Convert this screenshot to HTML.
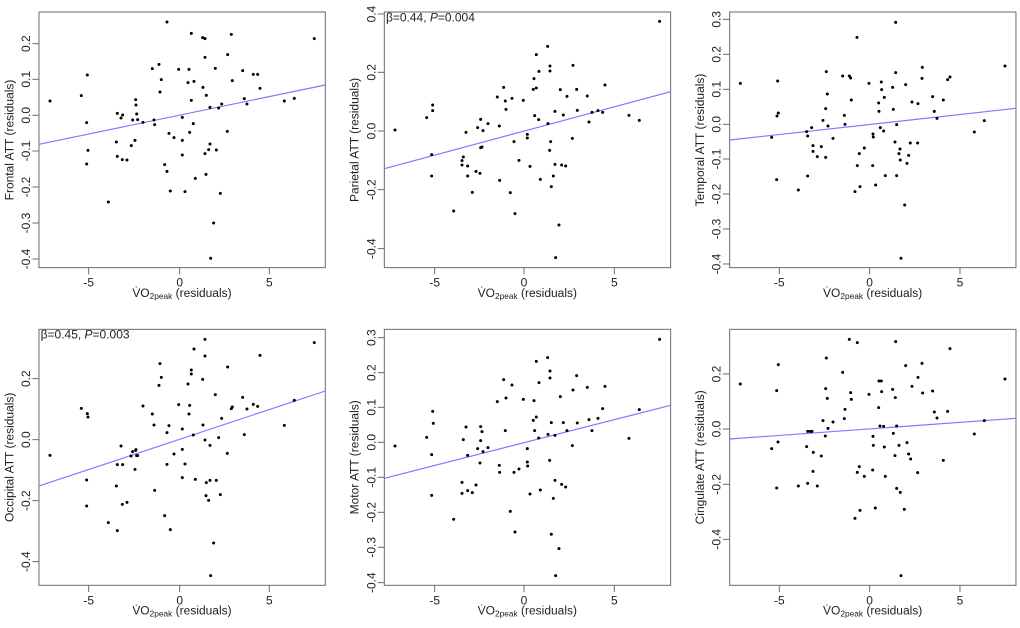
<!DOCTYPE html>
<html><head><meta charset="utf-8"><style>
html,body{margin:0;padding:0;background:#fff;}
svg{display:block;font-family:"Liberation Sans",Arial,sans-serif;}
text{fill:#222;font-size:36px;}
</style></head><body>
<svg id="s" width="1020" height="628" viewBox="0 0 1020 628" xmlns="http://www.w3.org/2000/svg">
<g id="p1" transform="translate(0,0) scale(0.3333)">
<text x="40" y="420" text-anchor="middle" transform="rotate(-90 40 420)">Frontal ATT (residuals)</text>
<text x="90" y="131" text-anchor="middle" transform="rotate(-90 90 131)">0.2</text>
<text x="90" y="238" text-anchor="middle" transform="rotate(-90 90 238)">0.1</text>
<text x="90" y="346" text-anchor="middle" transform="rotate(-90 90 346)">0.0</text>
<text x="90" y="453" text-anchor="middle" transform="rotate(-90 90 453)">-0.1</text>
<text x="90" y="561" text-anchor="middle" transform="rotate(-90 90 561)">-0.2</text>
<text x="90" y="669" text-anchor="middle" transform="rotate(-90 90 669)">-0.3</text>
<text x="90" y="777" text-anchor="middle" transform="rotate(-90 90 777)">-0.4</text>
<text x="266" y="860" text-anchor="middle">-5</text><text x="539" y="860" text-anchor="middle">0</text><text x="808" y="860" text-anchor="middle">5</text>
<text x="546" y="891" text-anchor="middle">V̇O<tspan font-size="25" dy="6">2peak</tspan><tspan dy="-6"> (residuals)</tspan></text>
</g>
<g id="p2" transform="translate(340,0) scale(0.3333)">
<text x="56" y="420" text-anchor="middle" transform="rotate(-90 56 420)">Parietal ATT (residuals)</text>
<text x="106" y="42" text-anchor="middle" transform="rotate(-90 106 42)">0.4</text>
<text x="106" y="217" text-anchor="middle" transform="rotate(-90 106 217)">0.2</text>
<text x="106" y="393" text-anchor="middle" transform="rotate(-90 106 393)">0.0</text>
<text x="106" y="569" text-anchor="middle" transform="rotate(-90 106 569)">-0.2</text>
<text x="106" y="746" text-anchor="middle" transform="rotate(-90 106 746)">-0.4</text>
<text x="284" y="860" text-anchor="middle">-5</text><text x="552" y="860" text-anchor="middle">0</text><text x="823" y="860" text-anchor="middle">5</text>
<text x="562" y="891" text-anchor="middle">V̇O<tspan font-size="25" dy="6">2peak</tspan><tspan dy="-6"> (residuals)</tspan></text>
<text x="138" y="64">β=0.44, <tspan font-style="italic">P</tspan>=0.004</text>
</g>
<g id="p3" transform="translate(680,0) scale(0.3333)">
<text x="72" y="420" text-anchor="middle" transform="rotate(-90 72 420)">Temporal ATT (residuals)</text>
<text x="122" y="58" text-anchor="middle" transform="rotate(-90 122 58)">0.3</text>
<text x="122" y="163" text-anchor="middle" transform="rotate(-90 122 163)">0.2</text>
<text x="122" y="268" text-anchor="middle" transform="rotate(-90 122 268)">0.1</text>
<text x="122" y="373" text-anchor="middle" transform="rotate(-90 122 373)">0.0</text>
<text x="122" y="477" text-anchor="middle" transform="rotate(-90 122 477)">-0.1</text>
<text x="122" y="582" text-anchor="middle" transform="rotate(-90 122 582)">-0.2</text>
<text x="122" y="687" text-anchor="middle" transform="rotate(-90 122 687)">-0.3</text>
<text x="122" y="792" text-anchor="middle" transform="rotate(-90 122 792)">-0.4</text>
<text x="298" y="860" text-anchor="middle">-5</text><text x="569" y="860" text-anchor="middle">0</text><text x="840" y="860" text-anchor="middle">5</text>
<text x="578" y="891" text-anchor="middle">V̇O<tspan font-size="25" dy="6">2peak</tspan><tspan dy="-6"> (residuals)</tspan></text>
</g>
<g id="p4" transform="translate(0,310) scale(0.3333)">
<text x="40" y="442" text-anchor="middle" transform="rotate(-90 40 442)">Occipital ATT (residuals)</text>
<text x="90" y="206" text-anchor="middle" transform="rotate(-90 90 206)">0.2</text>
<text x="90" y="389" text-anchor="middle" transform="rotate(-90 90 389)">0.0</text>
<text x="90" y="572" text-anchor="middle" transform="rotate(-90 90 572)">-0.2</text>
<text x="90" y="755" text-anchor="middle" transform="rotate(-90 90 755)">-0.4</text>
<text x="266" y="883" text-anchor="middle">-5</text><text x="539" y="883" text-anchor="middle">0</text><text x="808" y="883" text-anchor="middle">5</text>
<text x="546" y="914" text-anchor="middle">V̇O<tspan font-size="25" dy="6">2peak</tspan><tspan dy="-6"> (residuals)</tspan></text>
<text x="122" y="86">β=0.45, <tspan font-style="italic">P</tspan>=0.003</text>
</g>
<g id="p5" transform="translate(340,310) scale(0.3333)">
<text x="56" y="442" text-anchor="middle" transform="rotate(-90 56 442)">Motor ATT (residuals)</text>
<text x="106" y="83" text-anchor="middle" transform="rotate(-90 106 83)">0.3</text>
<text x="106" y="188" text-anchor="middle" transform="rotate(-90 106 188)">0.2</text>
<text x="106" y="292" text-anchor="middle" transform="rotate(-90 106 292)">0.1</text>
<text x="106" y="397" text-anchor="middle" transform="rotate(-90 106 397)">0.0</text>
<text x="106" y="502" text-anchor="middle" transform="rotate(-90 106 502)">-0.1</text>
<text x="106" y="607" text-anchor="middle" transform="rotate(-90 106 607)">-0.2</text>
<text x="106" y="712" text-anchor="middle" transform="rotate(-90 106 712)">-0.3</text>
<text x="106" y="818" text-anchor="middle" transform="rotate(-90 106 818)">-0.4</text>
<text x="284" y="883" text-anchor="middle">-5</text><text x="552" y="883" text-anchor="middle">0</text><text x="823" y="883" text-anchor="middle">5</text>
<text x="562" y="914" text-anchor="middle">V̇O<tspan font-size="25" dy="6">2peak</tspan><tspan dy="-6"> (residuals)</tspan></text>
</g>
<g id="p6" transform="translate(680,310) scale(0.3333)">
<text x="72" y="442" text-anchor="middle" transform="rotate(-90 72 442)">Cingulate ATT (residuals)</text>
<text x="122" y="192" text-anchor="middle" transform="rotate(-90 122 192)">0.2</text>
<text x="122" y="357" text-anchor="middle" transform="rotate(-90 122 357)">0.0</text>
<text x="122" y="523" text-anchor="middle" transform="rotate(-90 122 523)">-0.2</text>
<text x="122" y="688" text-anchor="middle" transform="rotate(-90 122 688)">-0.4</text>
<text x="298" y="883" text-anchor="middle">-5</text><text x="569" y="883" text-anchor="middle">0</text><text x="840" y="883" text-anchor="middle">5</text>
<text x="578" y="914" text-anchor="middle">V̇O<tspan font-size="25" dy="6">2peak</tspan><tspan dy="-6"> (residuals)</tspan></text>
</g>
</svg>
<script>
var NS="http://www.w3.org/2000/svg";
var P={
p1:{b:[117,36,976,803],xt:[266,539,808],yt:[131,238,346,453,561,669,777],l:[117,433,976,255],
pts:[150,303,244,287,262,225,260,368,264,451,260,492,325,606,349,426,352,340,352,469,363,354,368,345,367,479,381,480,398,360,405,421,407,299,408,315,410,342,413,359,394,437,429,367,457,206,462,360,464,374,477,193,480,276,484,239,494,494,501,514,501,66,507,400,511,573,522,413,536,208,547,352,547,421,547,465,555,575,564,248,567,208,569,397,574,100,574,301,580,371,582,244,586,535,608,113,609,262,615,116,615,172,615,461,618,523,619,286,626,449,630,432,630,322,632,775,641,669,646,205,649,450,656,324,661,580,665,312,682,394,683,164,694,103,697,242,728,212,733,296,741,312,760,223,773,223,780,265,853,303,883,295,943,116]},
p2:{b:[133,36,992,803],xt:[284,552,823],yt:[42,217,393,569,746],l:[133,506,992,275],
pts:[165,390,260,353,278,315,278,332,275,464,275,528,341,633,366,482,366,495,370,471,378,397,383,498,383,528,397,577,408,514,413,383,420,520,422,358,422,443,426,441,429,392,444,371,472,291,478,378,479,541,491,262,496,303,498,328,511,578,516,295,522,425,525,641,537,481,550,301,562,403,562,414,570,499,580,268,582,236,584,347,589,264,589,164,596,359,597,214,601,538,623,139,624,371,629,451,630,198,630,213,632,425,640,528,645,334,645,493,634,560,657,675,647,773,661,269,665,495,670,345,677,498,681,289,697,415,699,196,710,268,712,331,742,288,747,366,756,337,774,332,788,337,795,255,867,346,898,361,959,64]},
p3:{b:[149,36,1008,803],xt:[298,569,840],yt:[58,163,268,373,477,582,687,792],l:[149,420,1008,325],
pts:[181,250,275,412,293,243,291,348,295,339,290,539,355,570,380,395,383,408,383,528,395,383,399,437,399,454,412,470,424,440,429,361,437,326,437,472,439,215,442,282,444,378,459,415,488,228,493,346,495,373,508,228,512,234,514,300,525,575,531,112,532,497,538,461,540,560,553,444,567,250,578,497,579,402,580,411,587,555,596,309,597,334,601,383,604,246,605,269,611,393,613,292,616,527,638,262,640,328,645,426,647,67,647,218,650,527,650,374,657,461,660,447,661,480,663,775,674,615,677,254,681,490,686,466,691,429,696,306,713,429,714,311,726,235,727,202,758,290,763,334,771,355,790,300,803,239,810,231,883,396,913,362,975,198]},
p4:{b:[117,58,976,826],xt:[266,539,808],yt:[206,389,572,755],l:[117,528,976,243],
pts:[150,436,244,295,262,311,264,321,260,510,260,588,325,638,349,528,352,464,352,662,363,408,368,464,367,583,381,577,398,425,405,478,407,421,408,419,410,437,413,437,393,438,429,288,457,312,462,345,464,541,477,226,480,161,484,202,494,617,501,463,501,368,507,347,511,659,522,432,536,284,547,357,547,418,547,503,555,462,564,222,567,312,569,286,574,180,574,192,580,375,582,117,586,508,608,208,609,345,615,390,615,138,615,88,618,557,619,518,626,571,630,406,630,511,632,797,641,699,646,254,649,511,656,383,661,554,665,325,682,430,683,171,694,296,697,291,728,262,733,374,741,297,760,283,773,289,780,136,853,346,883,271,943,98]},
p5:{b:[133,58,992,826],xt:[284,552,823],yt:[83,188,292,397,502,607,712,818],l:[133,505,992,286],
pts:[165,408,260,382,278,304,280,340,275,434,275,556,341,628,366,517,366,550,370,389,378,351,383,436,383,542,397,548,408,525,413,416,420,459,422,392,422,350,426,365,429,425,444,413,472,275,478,466,479,487,491,209,496,362,498,264,511,604,516,225,522,487,525,666,537,477,550,268,562,416,562,456,563,468,570,552,580,331,582,272,584,362,589,321,589,154,596,384,597,218,601,540,623,143,624,373,629,451,630,183,630,204,634,338,640,565,645,376,645,511,634,673,657,716,647,797,661,260,665,523,670,338,677,531,681,362,697,407,699,240,710,197,712,339,742,232,747,329,756,362,774,325,788,296,795,229,867,385,898,299,959,88]},
p6:{b:[149,58,1008,826],xt:[298,569,840],yt:[192,357,523,688],l:[149,387,1008,325],
pts:[181,222,275,416,290,242,295,164,294,396,290,534,355,528,380,410,383,364,383,520,391,364,396,364,399,484,400,427,412,528,424,438,429,332,436,378,437,236,439,144,442,265,444,355,459,336,488,187,493,326,495,298,508,88,512,248,514,268,525,625,532,98,532,487,538,470,540,601,553,499,567,253,578,480,579,379,580,406,586,594,596,293,597,213,600,348,604,213,605,245,611,349,613,411,616,499,638,238,640,370,646,263,645,437,647,95,650,348,650,535,657,406,661,547,663,797,673,598,677,167,681,398,686,432,692,447,696,229,713,488,714,202,726,160,728,249,758,243,763,306,771,324,790,451,803,304,810,116,883,372,913,332,975,207]}
};
function el(t,a,g){var e=document.createElementNS(NS,t);for(var k in a)e.setAttribute(k,a[k]);g.appendChild(e);return e;}
for(var id in P){var p=P[id],g=document.getElementById(id),b=p.b;
 el("rect",{x:b[0],y:b[1],width:b[2]-b[0],height:b[3]-b[1],fill:"none",stroke:"#6a6a6a","stroke-width":3},g);
 p.xt.forEach(function(x){el("line",{x1:x,y1:b[3],x2:x,y2:b[3]+20,stroke:"#6a6a6a","stroke-width":3},g);});
 p.yt.forEach(function(y){el("line",{x1:b[0],y1:y,x2:b[0]-20,y2:y,stroke:"#6a6a6a","stroke-width":3},g);});
 el("line",{x1:p.l[0],y1:p.l[1],x2:p.l[2],y2:p.l[3],stroke:"#7b7bff","stroke-width":3.5},g);
 for(var i=0;i<p.pts.length;i+=2)el("circle",{cx:p.pts[i],cy:p.pts[i+1],r:4.5,fill:"#000"},g);
}
</script>
</body></html>
